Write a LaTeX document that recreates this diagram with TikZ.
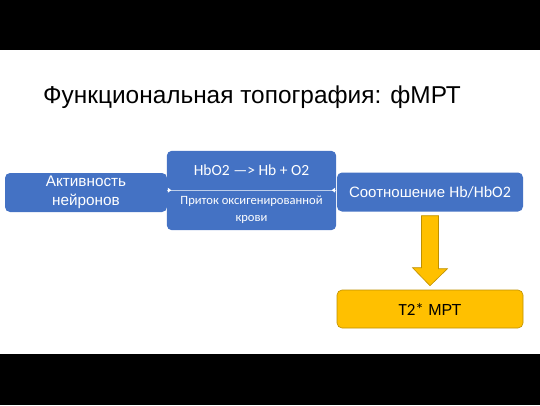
\documentclass[tikz,border=0pt]{standalone}
\usepackage{fontspec}
\setmainfont{Liberation Sans}
\newfontfamily\calib{Carlito}
\usetikzlibrary{backgrounds,calc}
\definecolor{boxblue}{HTML}{4472C4}
\definecolor{boxyellow}{HTML}{FFC000}
\definecolor{edgeyellow}{HTML}{BF9000}
\tikzset{
  bluebox/.style={rectangle, rounded corners=5pt, fill=boxblue, text=white,
    align=center, inner sep=0pt, minimum height=39pt},
  halfbox/.style={rectangle, text=white, align=center, inner sep=0pt,
    minimum width=169pt},
  yellowbox/.style={rectangle, rounded corners=5pt, fill=boxyellow,
    draw=edgeyellow, line width=0.6pt, align=center, inner sep=0pt,
    minimum width=186pt, minimum height=38pt},
  blockarrow/.style={fill=boxyellow, draw=edgeyellow, line width=0.6pt},
  tip/.style={fill=white},
}
\begin{document}
\begin{tikzpicture}[x=1pt,y=-1pt]
				\useasboundingbox (0,0) rectangle (540,405);
				\fill[black] (0,0) rectangle (540,50);
				\fill[black] (0,354) rectangle (540,405);

				\node[anchor=base west, inner sep=0pt, font=\fontsize{24.4}{29}\selectfont] (T) at (43,103) {Функциональная топография: фМРТ};

				\node[bluebox, minimum width=162pt, font=\fontsize{15.3}{18.5}\selectfont] (A) at (86,192.5) {Активность\\нейронов};
				\node[halfbox, minimum height=39pt, font=\calib\fontsize{15.5}{17}\selectfont] (B) at (251.5,170.5) {HbO2 —> Hb + O2};
				\node[halfbox, minimum height=40pt, font=\calib\fontsize{12.6}{16.5}\selectfont] (B2) at (251.5,210) {Приток оксигенированной\\крови};
				\node[bluebox, minimum width=186pt, font=\fontsize{15}{18}\selectfont] (C) at (430,192) {Соотношение {\calib\fontsize{16}{18}\selectfont Hb/HbO2}};
				\node[yellowbox, font=\fontsize{16}{18}\selectfont] (D) at (430,309) {{\calib\fontsize{17}{18}\selectfont T2*} МРТ};

				\begin{pgfonlayer}{background}
					\fill[boxblue, rounded corners=5pt] (B.north west) rectangle (B2.south east);
				\end{pgfonlayer}
				\draw[white!65!boxblue, line width=0.6pt] (B.south west) -- (B.south east);

				% small tips into the middle box
				\fill[tip] ($(B.south west)+(1,-2.5)$) -- ++(3.5,2.5) -- ++(-3.5,2.5) -- cycle;
				\fill[tip] ($(B.south east)+(-1,-2.5)$) -- ++(-3.5,2.5) -- ++(3.5,2.5) -- cycle;

				% block arrow from C down to D
				\draw[blockarrow] ($(C.south)+(-8.5,4)$) -- ++(17,0) -- ++(0,53) -- ++(9,0)
					-- ($(D.north)+(0,-4)$) -- ($(D.north)+(-17.5,-22)$) -- ++(9,0) -- cycle;
			\end{tikzpicture}
\end{document}
